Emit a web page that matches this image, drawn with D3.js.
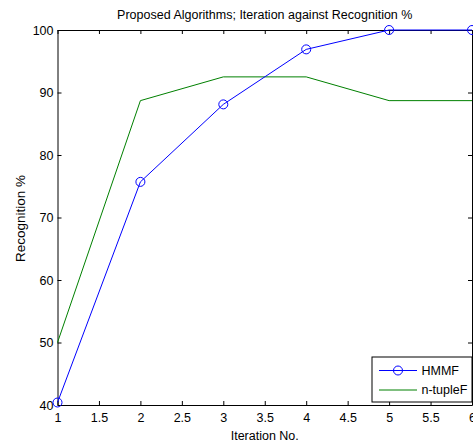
<!DOCTYPE html>
<html><head><meta charset="utf-8">
<script src="https://cdn.jsdelivr.net/npm/d3@7"></script>
<style>
html,body{margin:0;padding:0;background:#fff;}
svg{display:block;font-family:"Liberation Sans",Arial,sans-serif;}
</style></head>
<body>
<svg id="chart" width="473" height="445"></svg>
<script>
const iterations = [1, 2, 3, 4, 5, 6];
const hmmf = [40.4, 75.7, 88.1, 96.9, 100, 100];
const ntupleF = [50.0, 88.7, 92.5, 92.5, 88.7, 88.7];
const seriesNames = ["HMMF", "n-tupleF"];
const xTicks = [1, 1.5, 2, 2.5, 3, 3.5, 4, 4.5, 5, 5.5, 6];
const yTicks = [40, 50, 60, 70, 80, 90, 100];
const titleText = "Proposed Algorithms; Iteration against Recognition %";
const xLabel = "Iteration No.";
const yLabel = "Recognition %";

const svg = d3.select("#chart");
const L = 57.5, R = 472, T = 30, B = 405;
const x = d3.scaleLinear().domain([1, 6]).range([L, R]);
const y = d3.scaleLinear().domain([40, 100]).range([B, T]);
const fs = 12.5;

svg.append("rect").attr("x", L).attr("y", T).attr("width", R - L).attr("height", B - T).attr("fill", "#fff");

// axes
const tickLen = 4;
const fmt = d => String(d);
const gb = svg.append("g").attr("transform", `translate(0,${B})`)
  .call(d3.axisBottom(x).tickValues(xTicks).tickSizeInner(-tickLen).tickSizeOuter(0).tickPadding(8).tickFormat(fmt));
const gt = svg.append("g").attr("transform", `translate(0,${T})`)
  .call(d3.axisTop(x).tickValues(xTicks).tickSizeInner(-tickLen).tickSizeOuter(0).tickFormat(""));
const gl = svg.append("g").attr("transform", `translate(${L},0)`)
  .call(d3.axisLeft(y).tickValues(yTicks).tickSizeInner(-tickLen).tickSizeOuter(0).tickPadding(4).tickFormat(fmt));
const gr = svg.append("g").attr("transform", `translate(${R},0)`)
  .call(d3.axisRight(y).tickValues(yTicks).tickSizeInner(-tickLen).tickSizeOuter(0).tickFormat(""));
[gb, gt, gl, gr].forEach(g => {
  g.selectAll("path.domain").attr("stroke", "#000").attr("stroke-width", 1);
  g.selectAll(".tick line").attr("stroke", "#000");
  g.selectAll("text").attr("font-size", fs).attr("fill", "#000").attr("font-family", "Liberation Sans, Arial, sans-serif");
});
gb.selectAll("text").attr("dy", "0.71em");

// lines
const line = d3.line().x((d, i) => x(iterations[i])).y(d => y(d));
svg.append("path").datum(ntupleF).attr("d", line).attr("fill", "none").attr("stroke", "#008000").attr("stroke-width", 1);
svg.append("path").datum(hmmf).attr("d", line).attr("fill", "none").attr("stroke", "#0000ff").attr("stroke-width", 1);
svg.append("g").selectAll("circle").data(hmmf).join("circle")
  .attr("cx", (d, i) => x(iterations[i])).attr("cy", d => y(d)).attr("r", 4.5)
  .attr("fill", "none").attr("stroke", "#0000ff").attr("stroke-width", 1);

// title and labels
svg.append("text").attr("x", (L + R) / 2).attr("y", 18.5).attr("text-anchor", "middle")
  .attr("font-size", fs).text(titleText);
svg.append("text").attr("x", (L + R) / 2).attr("y", 440).attr("text-anchor", "middle")
  .attr("font-size", fs).text(xLabel);
svg.append("text").attr("transform", `translate(24.5,${(T + B) / 2 + 1}) rotate(-90)`).attr("text-anchor", "middle")
  .attr("font-size", 13.5).text(yLabel);

// legend
const lg = svg.append("g");
lg.append("rect").attr("x", 372).attr("y", 357).attr("width", 100).attr("height", 45)
  .attr("fill", "#fff").attr("stroke", "#000").attr("stroke-width", 1);
const colors = ["#0000ff", "#008000"];
seriesNames.forEach((name, i) => {
  const yy = 370.5 + i * 19.5;
  lg.append("line").attr("x1", 379).attr("x2", 417).attr("y1", yy).attr("y2", yy)
    .attr("stroke", colors[i]).attr("stroke-width", 1);
  if (i === 0) lg.append("circle").attr("cx", 398).attr("cy", yy).attr("r", 4.5)
    .attr("fill", "none").attr("stroke", colors[i]);
  lg.append("text").attr("x", 421.5).attr("y", yy).attr("dy", "0.35em").attr("font-size", fs).text(name);
});
</script>
</body></html>
